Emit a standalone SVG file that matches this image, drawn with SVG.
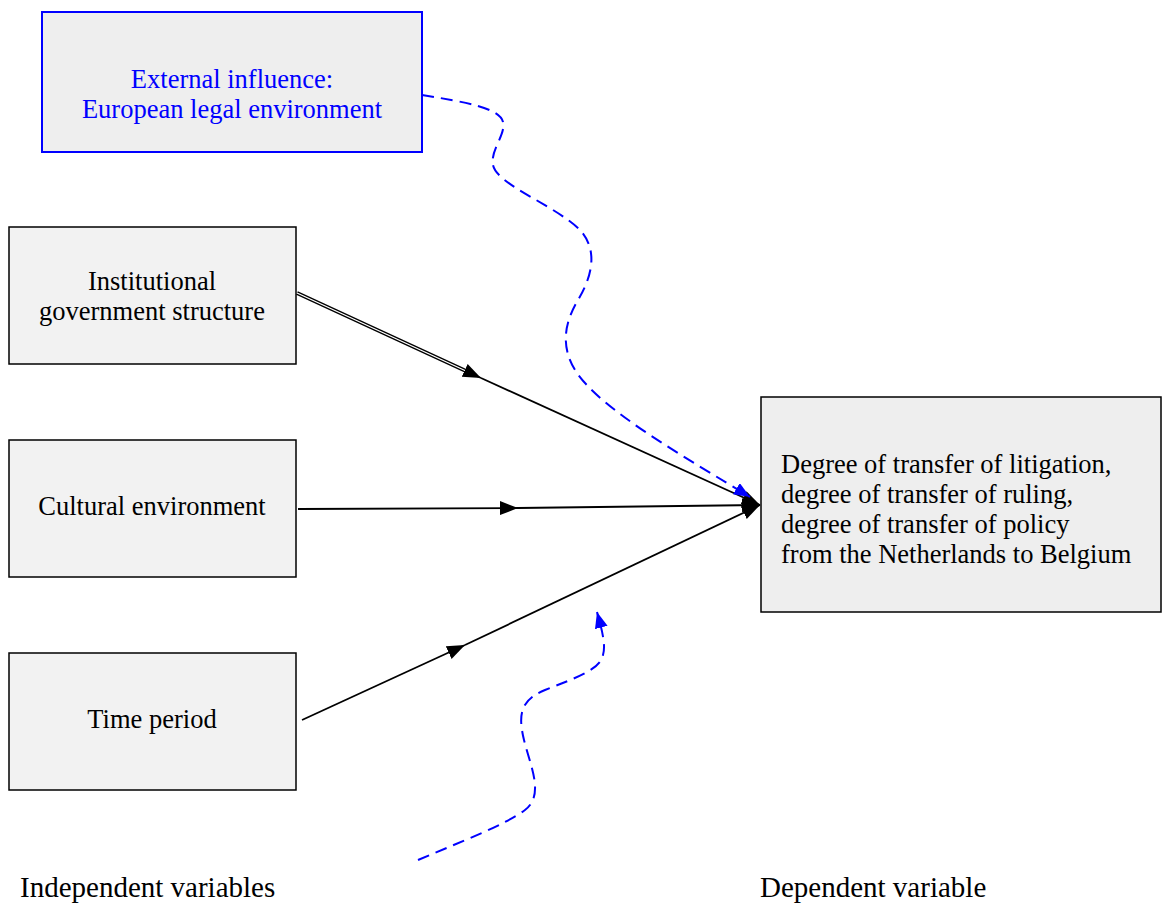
<svg xmlns="http://www.w3.org/2000/svg" width="1162" height="903" viewBox="0 0 1162 903">
<style>
.box{fill:#f2f2f2;stroke:#000;stroke-width:1.5}
.t{font-family:"Liberation Serif","Times New Roman",serif;font-size:26.5px;fill:#000}
.c{text-anchor:middle}
.blue{fill:#0000ff}
.ln{fill:none;stroke:#000;stroke-width:1.8}
.dash{fill:none;stroke:#0000ff;stroke-width:2;stroke-dasharray:12 7}
</style>
<defs>
<marker id="ab" markerUnits="userSpaceOnUse" markerWidth="20" markerHeight="16" refX="18" refY="7" orient="auto">
<path d="M0,0 L18,7 L0,14 z" fill="#000"/>
</marker>
<marker id="abl" markerUnits="userSpaceOnUse" markerWidth="18" markerHeight="14" refX="16" refY="6.5" orient="auto">
<path d="M0,0 L16,6.5 L0,13 z" fill="#0000ff"/>
</marker>
</defs>
<g id="n-external">
<rect x="42" y="12" width="380" height="140" fill="#eeeeee" stroke="#0000ff" stroke-width="2"/>
<text class="t c blue" x="232" y="88">External influence:</text>
<text class="t c blue" x="232" y="118">European legal environment</text>
</g>
<g id="n-institutional">
<rect class="box" x="9" y="227" width="287" height="137"/>
<text class="t c" x="152" y="290">Institutional</text>
<text class="t c" x="152" y="320">government structure</text>
</g>
<g id="n-cultural">
<rect class="box" x="9" y="440" width="287" height="137"/>
<text class="t c" x="152" y="515">Cultural environment</text>
</g>
<g id="n-time">
<rect class="box" x="9" y="653" width="287" height="137"/>
<text class="t c" x="152" y="728">Time period</text>
</g>
<g id="n-dependent">
<rect x="761" y="397" width="400" height="215" fill="#eeeeee" stroke="#000" stroke-width="1.5"/>
<text class="t" x="781" y="473">Degree of transfer of litigation,</text>
<text class="t" x="781" y="503">degree of transfer of ruling,</text>
<text class="t" x="781" y="533">degree of transfer of policy</text>
<text class="t" x="781" y="563">from the Netherlands to Belgium</text>
</g>
<g id="labels">
<text class="t" x="20" y="897" style="font-size:29px">Independent variables</text>
<text class="t" x="760" y="897" style="font-size:29px">Dependent variable</text>
</g>
<g id="connectors">
<path d="M297,293 L466,371" fill="none" stroke="#000" stroke-width="4"/>
<path d="M297,293 L466,371" fill="none" stroke="#fff" stroke-width="1.3"/>
<path class="ln" d="M466,371 L481,378" marker-end="url(#ab)"/>
<path class="ln" d="M481,378 L760,505" marker-end="url(#ab)"/>
<path class="ln" d="M298,509 L518,508" stroke-width="2.6" marker-end="url(#ab)"/>
<path class="ln" d="M518,508 L760,505" marker-end="url(#ab)"/>
<path class="ln" d="M302,720 L465,645" stroke-width="2.2" marker-end="url(#ab)"/>
<path class="ln" d="M465,645 L760,505" marker-end="url(#ab)"/>
<path class="dash" d="M422,95 C465,102 500,108 503,122 C506,135 490,150 493,165 C497,185 555,205 580,230 C600,252 590,280 578,300 C565,322 560,345 575,370 C600,410 690,460 750,497" marker-end="url(#abl)"/>
<path class="dash" d="M418,860 C460,842 505,825 525,810 C545,795 530,765 524,740 C518,715 520,700 545,690 C575,678 600,670 603,655 C606,645 602,630 597,612" marker-end="url(#abl)"/>
</g>
</svg>
